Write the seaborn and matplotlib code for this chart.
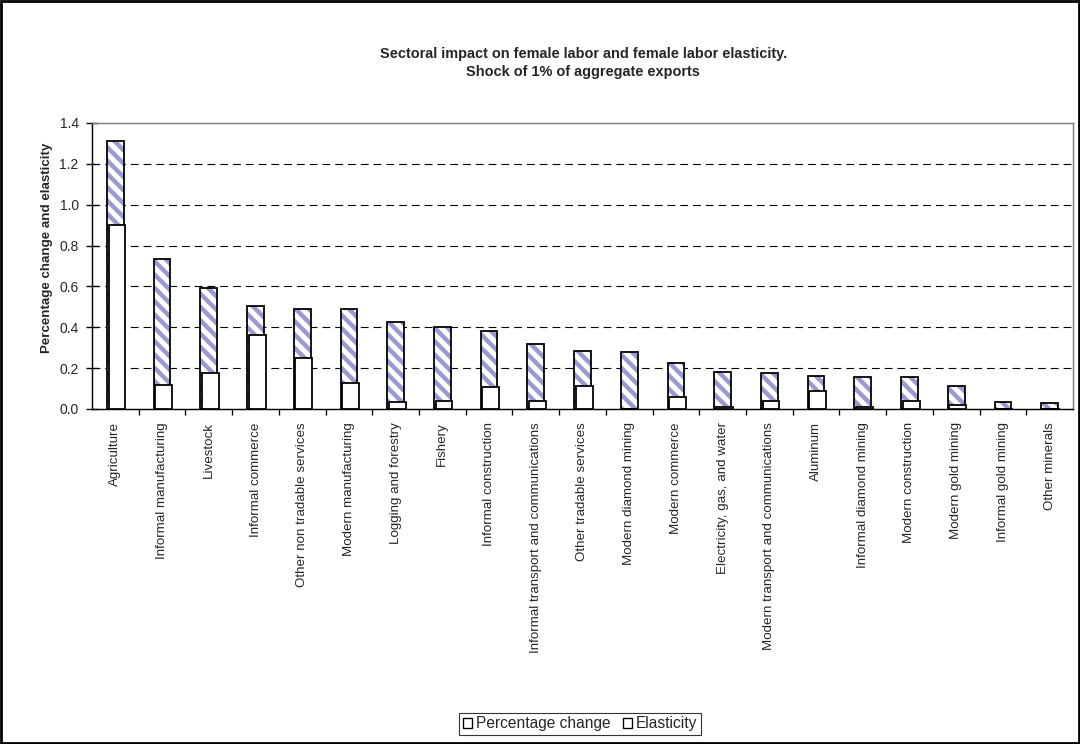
import numpy as np
import pandas as pd
import matplotlib
matplotlib.use("Agg")
import matplotlib.pyplot as plt
from matplotlib.patches import Rectangle
from matplotlib.ticker import FormatStrFormatter, FixedLocator
import seaborn as sns

# Data
sectors = [
    "Agriculture", "Informal manufacturing", "Livestock", "Informal commerce",
    "Other non tradable services", "Modern manufacturing", "Logging and forestry",
    "Fishery", "Informal construction", "Informal transport and communications",
    "Other tradable services", "Modern diamond mining", "Modern commerce",
    "Electricity, gas, and water", "Modern transport and communications",
    "Aluminum", "Informal diamond mining", "Modern construction",
    "Modern gold mining", "Informal gold mining", "Other minerals",
]
pct_change = [1.314, 0.734, 0.592, 0.503, 0.490, 0.487, 0.428, 0.400, 0.380,
              0.320, 0.283, 0.280, 0.227, 0.183, 0.178, 0.162, 0.157, 0.155,
              0.113, 0.034, 0.031]
elasticity = [0.900, 0.118, 0.178, 0.361, 0.248, 0.129, 0.036, 0.040, 0.110,
              0.039, 0.114, 0.002, 0.060, 0.010, 0.039, 0.090, 0.008, 0.038,
              0.020, 0.001, 0.001]
y_ticks = [0.0, 0.2, 0.4, 0.6, 0.8, 1.0, 1.2, 1.4]

sns.set_style("white")
plt.rcParams["font.family"] = ["Liberation Sans", "DejaVu Sans"]
plt.rcParams["hatch.linewidth"] = 4

df = pd.DataFrame({"Sector": sectors,
                   "Percentage change": pct_change,
                   "Elasticity": elasticity})

fig = plt.figure(figsize=(13.5, 9.3), dpi=80)
ax = fig.add_axes([0.0852, 0.4503, 0.9083, 0.3844])

# dashed gridlines behind the bars
for y in y_ticks[1:-1]:
    ax.axhline(y, color="black", lw=1, ls=(0, (7, 4.5)), zorder=0)

# hatched percentage change bars
sns.barplot(data=df, x="Sector", y="Percentage change", color="white",
            saturation=1, width=0.36, edgecolor="#9a9ad2", linewidth=0,
            hatch="\\\\", ax=ax, zorder=2)
# black outline on top of the hatch
sns.barplot(data=df, x="Sector", y="Percentage change", color="black",
            fill=False, width=0.36, linewidth=1.6, ax=ax, zorder=3)
n_before = len(ax.patches)
# elasticity bars in front, shifted slightly to the right
sns.barplot(data=df, x="Sector", y="Elasticity", color="white", saturation=1,
            width=0.36, edgecolor="black", linewidth=1.6, ax=ax, zorder=4)
for p in ax.patches[n_before:]:
    p.set_x(p.get_x() + 0.035)

ax.set_xlim(-0.5, len(sectors) - 0.5)
ax.set_ylim(0, 1.4)
ax.set_yticks(y_ticks)
ax.yaxis.set_major_formatter(FormatStrFormatter("%.1f"))
ax.set_xlabel("")
ax.set_ylabel("Percentage change and elasticity", fontsize=12,
              fontweight="bold")
ax.yaxis.set_label_coords(-0.040, 0.563)
ax.set_xticks(range(len(sectors)))
ax.set_xticklabels(sectors, rotation=90, fontsize=12)
ax.xaxis.set_minor_locator(FixedLocator(np.arange(0.5, len(sectors) - 0.5, 1)))
ax.tick_params(axis="x", which="major", length=0, pad=12)
ax.tick_params(axis="x", which="minor", length=5, width=1.2, direction="out",
               bottom=True, color="black")
ax.tick_params(axis="y", length=10, width=1.2, direction="inout", left=True,
               labelsize=12.5, color="black", pad=7)

for side in ["left", "bottom"]:
    ax.spines[side].set_color("black")
    ax.spines[side].set_linewidth(1.3)
for side in ["top", "right"]:
    ax.spines[side].set_color("#808080")
    ax.spines[side].set_linewidth(1.3)

fig.text(0.54, 0.915, "Sectoral impact on female labor and female labor elasticity.\n"
         "Shock of 1% of aggregate exports", ha="center", va="center",
         fontsize=13, fontweight="bold", linespacing=1.4)

handles = [Rectangle((0, 0), 1, 1, facecolor="white", edgecolor="black", lw=1.2),
           Rectangle((0, 0), 1, 1, facecolor="white", edgecolor="black", lw=1.2)]
leg = fig.legend(handles, ["Percentage change", "Elasticity"], loc="center",
                 bbox_to_anchor=(0.537, 0.027), ncol=2, fontsize=14,
                 frameon=True, fancybox=False, handlelength=0.6,
                 handleheight=0.6, handletextpad=0.25, columnspacing=0.8,
                 borderpad=0.2, borderaxespad=0)
leg.get_frame().set_edgecolor("black")
leg.get_frame().set_linewidth(1.0)

# chart area border
fig.add_artist(Rectangle((0.001, 0.0015), 0.998, 0.997, transform=fig.transFigure,
                         fill=False, edgecolor="black", lw=2.5))

fig.savefig("out.png", dpi=80)
